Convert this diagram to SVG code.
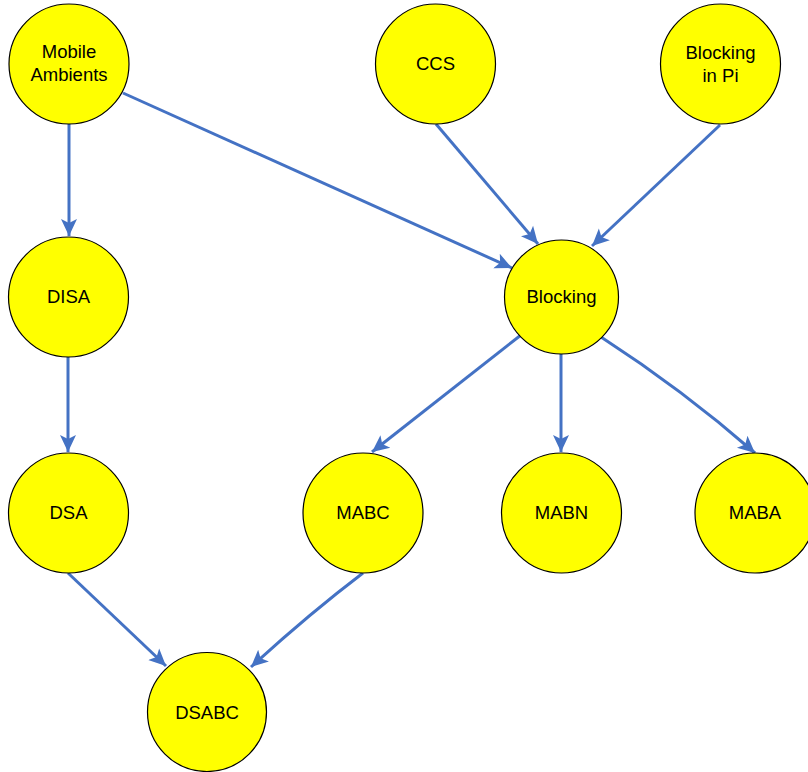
<svg xmlns="http://www.w3.org/2000/svg" width="808" height="772" viewBox="0 0 808 772">
<style>
.node circle{fill:#FFFF00;stroke:#000;stroke-width:1.2}
.node text{font-family:"Liberation Sans",Arial,sans-serif;font-size:18.5px;fill:#000;text-anchor:middle}
.edges path{fill:none;stroke:#4472C4;stroke-width:3;marker-end:url(#arr)}
</style>
<defs>
<marker id="arr" markerUnits="userSpaceOnUse" markerWidth="18" markerHeight="18" viewBox="0 0 18 18" refX="17" refY="9" orient="auto">
<path d="M0,1 L17,9 L0,17 L4,9 z" fill="#4472C4"/>
</marker>
</defs>
<rect width="808" height="772" fill="#fff"/>
<g class="edges">
<path d="M69,124 L69,236"/>
<path d="M123,93 L512,268"/>
<path d="M436,124 L538,244"/>
<path d="M720,125 L592,246"/>
<path d="M68,357 L68,452"/>
<path d="M521,335 L372,452"/>
<path d="M561,354 L561,452"/>
<path d="M601,337 Q683,390 755,453"/>
<path d="M68,573 L166,666"/>
<path d="M363,573 Q309,614 251,667"/>
</g>
<g id="mobile-ambients" class="node"><circle cx="69" cy="64" r="60"/><text x="69" y="58">Mobile</text><text x="69" y="81">Ambients</text></g>
<g id="ccs" class="node"><circle cx="435.5" cy="64" r="60"/><text x="435.5" y="70">CCS</text></g>
<g id="blocking-in-pi" class="node"><circle cx="720.5" cy="64" r="60"/><text x="720.5" y="59">Blocking</text><text x="720.5" y="82">in Pi</text></g>
<g id="disa" class="node"><circle cx="68.5" cy="297" r="60"/><text x="68.5" y="303">DISA</text></g>
<g id="blocking" class="node"><circle cx="561.5" cy="297" r="57"/><text x="561.5" y="303">Blocking</text></g>
<g id="dsa" class="node"><circle cx="68.5" cy="513" r="60"/><text x="68.5" y="519">DSA</text></g>
<g id="mabc" class="node"><circle cx="363" cy="513" r="60"/><text x="363" y="519">MABC</text></g>
<g id="mabn" class="node"><circle cx="561.5" cy="513" r="60"/><text x="561.5" y="519">MABN</text></g>
<g id="maba" class="node"><circle cx="755" cy="513" r="60"/><text x="755" y="519">MABA</text></g>
<g id="dsabc" class="node"><circle cx="207" cy="712" r="59.5"/><text x="207" y="718.5">DSABC</text></g>
</svg>
